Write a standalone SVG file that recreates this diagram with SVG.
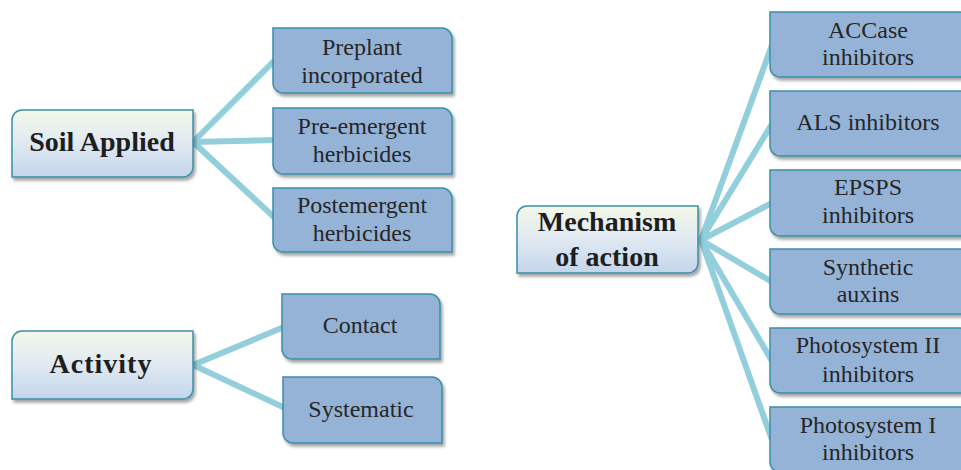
<svg xmlns="http://www.w3.org/2000/svg" width="961" height="470" viewBox="0 0 961 470">
  <defs>
    <linearGradient id="parentFill" x1="0" y1="0" x2="0" y2="1">
      <stop offset="0" stop-color="#F3F8E8"/>
      <stop offset="0.5" stop-color="#E0E9F2"/>
      <stop offset="1" stop-color="#C3D5EB"/>
    </linearGradient>
    <filter id="shadow" x="-10%" y="-10%" width="125%" height="140%">
      <feDropShadow dx="2" dy="3" stdDeviation="1.6" flood-color="#000" flood-opacity="0.35"/>
    </filter>
  </defs>
  <style>
    .parent { fill: url(#parentFill); stroke: #3A8FA6; stroke-width: 1.5; filter: url(#shadow); }
    .child { fill: #95B3D7; stroke: #3A8FA6; stroke-width: 1.5; filter: url(#shadow); }
    .link { fill: none; stroke: #93CEDC; stroke-width: 6; stroke-linecap: butt; }
    .ptext { font-family: "Liberation Serif", "DejaVu Serif", serif; font-weight: bold; font-size: 28px; fill: #1E1E1E; text-anchor: middle; }
    .ctext { font-family: "Liberation Serif", "DejaVu Serif", serif; font-size: 24px; fill: #262626; text-anchor: middle; }
  </style>
  <rect width="961" height="470" fill="#FFFFFF"/>

  <!-- connectors -->
  <g id="connectors">
    <line class="link" x1="193" y1="142" x2="275" y2="60"/>
    <line class="link" x1="193" y1="142" x2="275" y2="140"/>
    <line class="link" x1="193" y1="142" x2="275" y2="218"/>
    <line class="link" x1="193" y1="365" x2="284" y2="327"/>
    <line class="link" x1="193" y1="365" x2="285" y2="408"/>
    <line class="link" x1="701" y1="240" x2="772" y2="45"/>
    <line class="link" x1="701" y1="240" x2="772" y2="124"/>
    <line class="link" x1="701" y1="240" x2="772" y2="203"/>
    <line class="link" x1="701" y1="240" x2="772" y2="282"/>
    <line class="link" x1="701" y1="240" x2="772" y2="361"/>
    <line class="link" x1="701" y1="240" x2="772" y2="440"/>
  </g>

  <!-- Soil Applied branch -->
  <g id="soil-applied">
    <path class="parent" d="M22 110 H193 V167 A10 10 0 0 1 183 177 H12 V120 A10 10 0 0 1 22 110 Z"/>
    <text class="ptext" x="102" y="151">Soil Applied</text>
  </g>
  <g id="preplant">
    <path class="child" d="M273 28 H442 A10 10 0 0 1 452 38 V93 H283 A10 10 0 0 1 273 83 Z"/>
    <text class="ctext" x="362" y="55">Preplant</text>
    <text class="ctext" x="362" y="83">incorporated</text>
  </g>
  <g id="pre-emergent">
    <path class="child" d="M273 108 H442 A10 10 0 0 1 452 118 V174 H283 A10 10 0 0 1 273 164 Z"/>
    <text class="ctext" x="362" y="134">Pre-emergent</text>
    <text class="ctext" x="362" y="162">herbicides</text>
  </g>
  <g id="postemergent">
    <path class="child" d="M273 188 H442 A10 10 0 0 1 452 198 V252 H283 A10 10 0 0 1 273 242 Z"/>
    <text class="ctext" x="362" y="213">Postemergent</text>
    <text class="ctext" x="362" y="241">herbicides</text>
  </g>

  <!-- Activity branch -->
  <g id="activity">
    <path class="parent" d="M22 331 H193 V389 A10 10 0 0 1 183 399 H12 V341 A10 10 0 0 1 22 331 Z"/>
    <text class="ptext" x="101" y="373" letter-spacing="1">Activity</text>
  </g>
  <g id="contact">
    <path class="child" d="M282 294 H430 A10 10 0 0 1 440 304 V359 H292 A10 10 0 0 1 282 349 Z"/>
    <text class="ctext" x="360" y="333">Contact</text>
  </g>
  <g id="systematic">
    <path class="child" d="M283 377 H432 A10 10 0 0 1 442 387 V443 H293 A10 10 0 0 1 283 433 Z"/>
    <text class="ctext" x="361" y="417">Systematic</text>
  </g>

  <!-- Mechanism of action branch -->
  <g id="mechanism">
    <path class="parent" d="M527 206 H698 V263 A10 10 0 0 1 688 273 H517 V216 A10 10 0 0 1 527 206 Z"/>
    <text class="ptext" x="607" y="231">Mechanism</text>
    <text class="ptext" x="607" y="266">of action</text>
  </g>
  <g id="accase">
    <path class="child" d="M770 12 H960 A10 10 0 0 1 970 22 V77 H780 A10 10 0 0 1 770 67 Z"/>
    <text class="ctext" x="868" y="38">ACCase</text>
    <text class="ctext" x="868" y="65">inhibitors</text>
  </g>
  <g id="als">
    <path class="child" d="M770 91 H960 A10 10 0 0 1 970 101 V156 H780 A10 10 0 0 1 770 146 Z"/>
    <text class="ctext" x="868" y="130">ALS inhibitors</text>
  </g>
  <g id="epsps">
    <path class="child" d="M770 170 H960 A10 10 0 0 1 970 180 V236 H780 A10 10 0 0 1 770 226 Z"/>
    <text class="ctext" x="868" y="195">EPSPS</text>
    <text class="ctext" x="868" y="223">inhibitors</text>
  </g>
  <g id="synthetic-auxins">
    <path class="child" d="M770 249 H960 A10 10 0 0 1 970 259 V314 H780 A10 10 0 0 1 770 304 Z"/>
    <text class="ctext" x="868" y="275">Synthetic</text>
    <text class="ctext" x="868" y="302">auxins</text>
  </g>
  <g id="photosystem-ii">
    <path class="child" d="M770 328 H960 A10 10 0 0 1 970 338 V393 H780 A10 10 0 0 1 770 383 Z"/>
    <text class="ctext" x="868" y="353">Photosystem II</text>
    <text class="ctext" x="868" y="382">inhibitors</text>
  </g>
  <g id="photosystem-i">
    <path class="child" d="M770 407 H960 A10 10 0 0 1 970 417 V472 H780 A10 10 0 0 1 770 462 Z"/>
    <text class="ctext" x="868" y="433">Photosystem I</text>
    <text class="ctext" x="868" y="460">inhibitors</text>
  </g>
</svg>
